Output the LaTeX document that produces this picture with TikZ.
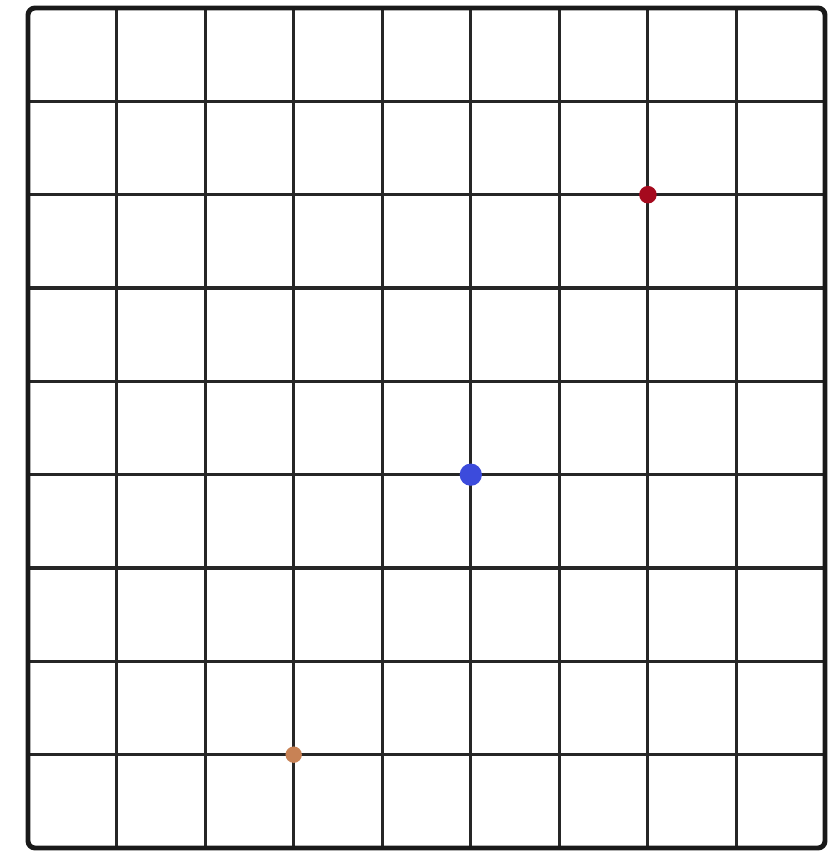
\documentclass[tikz,border=0pt]{standalone}
\usepackage{tikz}
\usetikzlibrary{calc,positioning}
\definecolor{dotred}{RGB}{165,10,30}
\definecolor{dotblue}{RGB}{60,75,220}
\definecolor{dotorange}{RGB}{200,130,85}
\tikzset{
  gridline/.style={line width=2.6pt,black!85},
  frame/.style={line width=4.2pt,black!90,rounded corners=6pt},
  pt/.style={circle,inner sep=0pt,fill=#1}
}
\begin{document}
\begin{tikzpicture}[x=0.03cm,y=0.03cm]
\useasboundingbox (0,0) rectangle (831,863);
% 9 x 9 cells, lower left corner at (28,15)
\foreach \i in {1,...,8} {
  \draw[gridline] (28+88.56*\i,15) -- (28+88.56*\i,855);
  \draw[gridline] (28,15+93.33*\i) -- (825,15+93.33*\i);
}
\draw[frame] (28,15) rectangle (825,855);
% marked points
\node[pt=dotred,minimum size=15pt] (red) at (28+88.56*7,15+93.33*7) {};
\node[pt=dotblue,minimum size=19pt] (blue) at (28+88.56*5,15+93.33*4) {};
\node[pt=dotorange,minimum size=14pt] (orange) at (28+88.56*3,15+93.33*1) {};
\end{tikzpicture}
\end{document}
